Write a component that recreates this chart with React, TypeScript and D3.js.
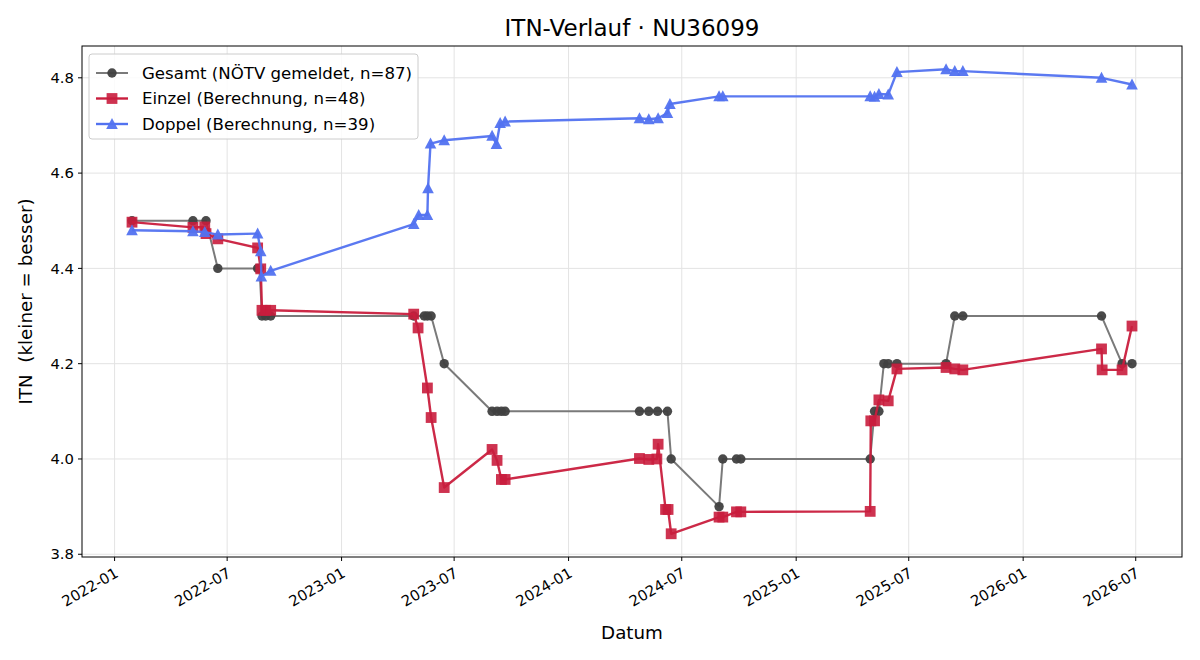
import React from 'react';
import * as d3 from 'd3';

const gesamtDates = [
  '2022-01-29', '2022-05-07', '2022-05-28', '2022-06-16', '2022-08-19', '2022-08-22', '2022-08-26', '2022-09-01', '2022-09-09',
  '2023-04-27', '2023-05-14', '2023-05-19', '2023-05-25', '2023-06-15', '2023-08-31', '2023-09-08', '2023-09-15', '2023-09-21',
  '2024-04-24', '2024-05-09', '2024-05-23', '2024-06-08', '2024-06-14', '2024-08-30', '2024-09-05', '2024-09-27', '2024-10-04',
  '2025-04-30', '2025-05-07', '2025-05-14', '2025-05-22', '2025-05-29', '2025-06-12', '2025-08-30', '2025-09-13', '2025-09-26',
  '2026-05-07', '2026-06-09', '2026-06-25',
];
const gesamtValues = [
  4.5, 4.5, 4.5, 4.4, 4.4, 4.4, 4.3, 4.3, 4.3,
  4.3, 4.3, 4.3, 4.3, 4.2, 4.1, 4.1, 4.1, 4.1,
  4.1, 4.1, 4.1, 4.1, 4.0, 3.9, 4.0, 4.0, 4.0,
  4.0, 4.1, 4.1, 4.2, 4.2, 4.2, 4.2, 4.3, 4.3,
  4.3, 4.2, 4.2,
];

const einzelDates = [
  '2022-01-29', '2022-05-07', '2022-05-26', '2022-05-28', '2022-06-16', '2022-08-19', '2022-08-24', '2022-08-26', '2022-09-01', '2022-09-09',
  '2023-04-27', '2023-05-04', '2023-05-19', '2023-05-25', '2023-06-15', '2023-08-31', '2023-09-08', '2023-09-15', '2023-09-21',
  '2024-04-24', '2024-05-09', '2024-05-22', '2024-05-24', '2024-06-05', '2024-06-09', '2024-06-14', '2024-08-30', '2024-09-05', '2024-09-27', '2024-10-04',
  '2025-04-30', '2025-05-01', '2025-05-07', '2025-05-14', '2025-05-29', '2025-06-12', '2025-08-30', '2025-09-13', '2025-09-26',
  '2026-05-07', '2026-05-08', '2026-06-09', '2026-06-25',
];
const einzelValues = [
  4.497, 4.486, 4.487, 4.473, 4.462, 4.443, 4.399, 4.312, 4.312, 4.312,
  4.304, 4.275, 4.149, 4.087, 3.940, 4.020, 3.997, 3.957, 3.957,
  4.001, 3.999, 4.000, 4.031, 3.894, 3.894, 3.843, 3.878, 3.878, 3.889, 3.889,
  3.890, 4.080, 4.080, 4.124, 4.122, 4.189, 4.192, 4.189, 4.187,
  4.231, 4.187, 4.187, 4.279,
];

const doppelDates = [
  '2022-01-29', '2022-05-07', '2022-05-26', '2022-06-16', '2022-08-19', '2022-08-24', '2022-08-25', '2022-09-09',
  '2023-04-27', '2023-05-05', '2023-05-19', '2023-05-20', '2023-05-24', '2023-06-15', '2023-08-31', '2023-09-07', '2023-09-13', '2023-09-21',
  '2024-04-24', '2024-05-09', '2024-05-24', '2024-06-08', '2024-06-12', '2024-08-30', '2024-09-05',
  '2025-04-30', '2025-05-07', '2025-05-14', '2025-05-29', '2025-06-12', '2025-08-30', '2025-09-13', '2025-09-26',
  '2026-05-07', '2026-06-25',
];
const doppelValues = [
  4.480, 4.478, 4.476, 4.471, 4.473, 4.436, 4.383, 4.395,
  4.493, 4.512, 4.512, 4.568, 4.662, 4.669, 4.678, 4.661, 4.705, 4.708,
  4.715, 4.713, 4.715, 4.726, 4.745, 4.761, 4.761,
  4.761, 4.760, 4.766, 4.765, 4.812, 4.818, 4.814, 4.814,
  4.800, 4.786,
];

const seriesLabels = ['Gesamt (NÖTV gemeldet, n=87)', 'Einzel (Berechnung, n=48)', 'Doppel (Berechnung, n=39)'];
const yTickValues = [3.8, 4.0, 4.2, 4.4, 4.6, 4.8];
const xTickLabels = ['2022-01', '2022-07', '2023-01', '2023-07', '2024-01', '2024-07', '2025-01', '2025-07', '2026-01', '2026-07'];

const FONT = '"DejaVu Sans", sans-serif';
const W = 1200;
const H = 660;
const L = 82, R = 1182, T = 46, B = 557;

const parse = d3.timeParse('%Y-%m-%d');
const parseMonth = d3.timeParse('%Y-%m');

type Pt = { d: Date; v: number };
const mk = (ds: string[], vs: number[]): Pt[] => ds.map((s, i) => ({ d: parse(s) as Date, v: vs[i] }));

const gesamt = mk(gesamtDates, gesamtValues);
const einzel = mk(einzelDates, einzelValues);
const doppel = mk(doppelDates, doppelValues);
const all = [...gesamt, ...einzel, ...doppel];

const xExt = d3.extent(all, (p) => +p.d) as [number, number];
const yExt = d3.extent(all, (p) => p.v) as [number, number];
const xPad = (xExt[1] - xExt[0]) * 0.05;
const yPad = (yExt[1] - yExt[0]) * 0.05;

const x = d3.scaleTime().domain([new Date(xExt[0] - xPad), new Date(xExt[1] + xPad)]).range([L, R]);
const y = d3.scaleLinear().domain([yExt[0] - yPad, yExt[1] + yPad]).range([B, T]);

const line = d3.line<Pt>().x((p) => x(p.d)).y((p) => y(p.v));

const GRAY_LINE = '#7a7a7a';
const GRAY_MARK = '#404040';
const RED = '#c91d3d';
const BLUE = '#5272f0';

const tri = (cx: number, cy: number, s: number) =>
  `M${cx},${cy - s * 1.05}L${cx + s},${cy + s * 0.85}L${cx - s},${cy + s * 0.85}Z`;

function Circle({ cx, cy }: { cx: number; cy: number }) {
  return <circle cx={cx} cy={cy} r={4.7} fill={GRAY_MARK} fillOpacity={0.95} />;
}
function Square({ cx, cy }: { cx: number; cy: number }) {
  return <rect x={cx - 5.4} y={cy - 5.4} width={10.8} height={10.8} fill={RED} fillOpacity={0.9} />;
}
function Tri({ cx, cy }: { cx: number; cy: number }) {
  return <path d={tri(cx, cy, 5.8)} fill={BLUE} fillOpacity={0.95} />;
}

export default function App() {
  const xTicks = xTickLabels.map((s) => parseMonth(s) as Date);
  const fmt = d3.timeFormat('%Y-%m');
  return (
    <svg width={W} height={H} style={{ position: 'absolute', left: 0, top: 0, background: '#fff' }} fontFamily={FONT}>
      <rect x={0} y={0} width={W} height={H} fill="#fff" />
      {/* grid */}
      <g stroke="#e3e3e3" strokeWidth={1}>
        {xTicks.map((t, i) => (
          <line key={'gx' + i} x1={x(t)} x2={x(t)} y1={T} y2={B} />
        ))}
        {yTickValues.map((v, i) => (
          <line key={'gy' + i} x1={L} x2={R} y1={y(v)} y2={y(v)} />
        ))}
      </g>
      {/* series */}
      <path d={line(gesamt) || ''} fill="none" stroke={GRAY_LINE} strokeWidth={2} strokeLinejoin="round" />
      {gesamt.map((p, i) => (
        <Circle key={'g' + i} cx={x(p.d)} cy={y(p.v)} />
      ))}
      <path d={line(einzel) || ''} fill="none" stroke={RED} strokeOpacity={0.95} strokeWidth={2.4} strokeLinejoin="round" />
      {einzel.map((p, i) => (
        <Square key={'e' + i} cx={x(p.d)} cy={y(p.v)} />
      ))}
      <path d={line(doppel) || ''} fill="none" stroke={BLUE} strokeOpacity={0.95} strokeWidth={2.4} strokeLinejoin="round" />
      {doppel.map((p, i) => (
        <Tri key={'d' + i} cx={x(p.d)} cy={y(p.v)} />
      ))}
      {/* frame */}
      <rect x={L} y={T} width={R - L} height={B - T} fill="none" stroke="#000" strokeWidth={1} />
      {/* x ticks */}
      {xTicks.map((t, i) => (
        <g key={'xt' + i}>
          <line x1={x(t)} x2={x(t)} y1={B} y2={B + 4} stroke="#000" strokeWidth={1} />
          <text
            transform={`translate(${x(t) - 1},${B + 9}) rotate(-30)`}
            textAnchor="end"
            dy="0.78em"
            fontSize={14.8}
            fill="#000"
          >
            {fmt(t)}
          </text>
        </g>
      ))}
      {/* y ticks */}
      {yTickValues.map((v, i) => (
        <g key={'yt' + i}>
          <line x1={L - 4} x2={L} y1={y(v)} y2={y(v)} stroke="#000" strokeWidth={1} />
          <text x={L - 8} y={y(v)} dy="0.35em" textAnchor="end" fontSize={14.8} fill="#000">
            {d3.format('.1f')(v)}
          </text>
        </g>
      ))}
      {/* labels */}
      <text x={(L + R) / 2} y={28} dy="0.35em" textAnchor="middle" fontSize={23} fill="#000">
        ITN-Verlauf · NU36099
      </text>
      <text x={(L + R) / 2} y={633} dy="0.35em" textAnchor="middle" fontSize={18.3} fill="#000">
        Datum
      </text>
      <text
        transform={`translate(26,${(T + B) / 2}) rotate(-90)`}
        dy="0.35em"
        textAnchor="middle"
        fontSize={18.3}
        fill="#000"
        style={{ whiteSpace: 'pre' }}
      >
        {'ITN  (kleiner = besser)'}
      </text>
      {/* legend */}
      <g>
        <rect x={89} y={54} width={329} height={85} rx={3} fill="#fff" fillOpacity={0.85} stroke="#cccccc" strokeWidth={1} />
        {seriesLabels.map((s, i) => {
          const cy = 73 + i * 25.5;
          return (
            <g key={'lg' + i}>
              <line
                x1={96}
                x2={128}
                y1={cy}
                y2={cy}
                stroke={i === 0 ? GRAY_LINE : i === 1 ? RED : BLUE}
                strokeWidth={i === 0 ? 2 : 2.4}
              />
              {i === 0 && <Circle cx={112} cy={cy} />}
              {i === 1 && <Square cx={112} cy={cy} />}
              {i === 2 && <Tri cx={112} cy={cy} />}
              <text x={142} y={cy} dy="0.35em" fontSize={16.6} fill="#000">
                {s}
              </text>
            </g>
          );
        })}
      </g>
    </svg>
  );
}
